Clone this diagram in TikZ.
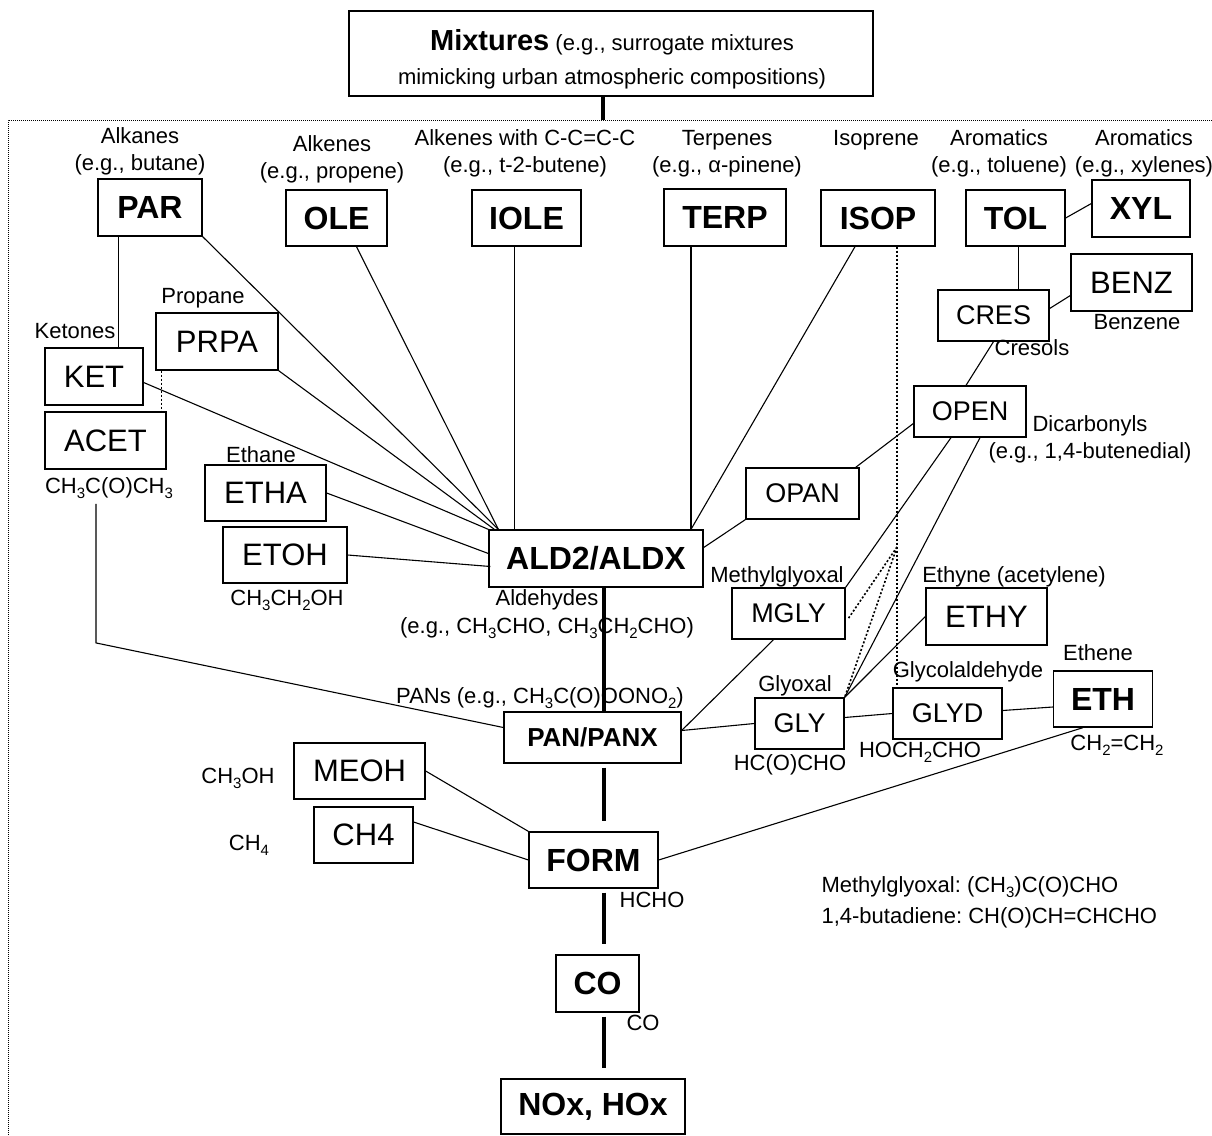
\documentclass[tikz,border=0pt]{standalone}
\usepackage{fontspec}
\setmainfont{Liberation Sans}
\usepackage{graphicx}
\usetikzlibrary{calc}
\newcommand{\sbs}[1]{\raisebox{-0.45ex}{\scalebox{0.68}{#1}}}
\frenchspacing

\begin{document}
\begin{tikzpicture}[x=1pt, y=-1pt, line width=1.1pt,
        box_style/.style={draw, line width=1.3pt, inner sep=0pt, font=\fontsize{31}{35}\selectfont},
        bold_box_style/.style={box_style, font=\fontsize{32}{36}\selectfont\bfseries},
        small_box_style/.style={box_style, font=\fontsize{27}{31}\selectfont},
        box_size/.style 2 args={minimum width=#1pt, minimum height=#2pt},
        label_style/.style={anchor=base, inner sep=0pt, align=center, font=\fontsize{22}{27}\selectfont},
        edge_style/.style={draw=black, line width=1.1pt},
        dot_edge_style/.style={draw=black, line width=1.6pt, dash pattern=on 2pt off 2pt},
        spine_style/.style={draw=black, line width=4pt},
        frame_style/.style={draw=black, line width=0.8pt, dash pattern=on 1pt off 1pt}]

        \useasboundingbox (0,0) rectangle (1212,1135);

        % boxes
        \node [box_style, box_size={524}{85}](mix) at (611,53.5) {};

        \node [bold_box_style, box_size={104}{57}](par) at (150,207.5) {PAR};
        \node [bold_box_style, box_size={101}{56}](ole) at (336.5,218) {OLE};
        \node [bold_box_style, box_size={109}{56}](iole) at (526.5,218) {IOLE};
        \node [bold_box_style, box_size={122}{57}](terp) at (725,217.5) {TERP};
        \node [bold_box_style, box_size={114}{56}](isop) at (878,218) {ISOP};
        \node [bold_box_style, box_size={99}{56}](tol) at (1015.5,218) {TOL};
        \node [bold_box_style, box_size={98}{57}](xyl) at (1141,208.5) {XYL};

        \node [box_style, box_size={121}{57}](benz) at (1131.5,282.5) {BENZ};
        \node [small_box_style, box_size={111}{51}](cres) at (993.5,315.5) {CRES};
        \node [small_box_style, box_size={112}{51}](open) at (970,411.5) {OPEN};
        \node [small_box_style, box_size={113}{51}](opan) at (802.5,493.5) {OPAN};

        \node [box_style, box_size={98}{57}](ket) at (94,376.5) {KET};
        \node [box_style, box_size={122}{57}](prpa) at (217,341.5) {PRPA};
        \node [box_style, box_size={121}{57}](acet) at (105.5,440.5) {ACET};
        \node [box_style, box_size={121}{56}](etha) at (265.5,493) {ETHA};
        \node [box_style, box_size={124}{56}](etoh) at (285,555) {ETOH};

        \node [bold_box_style, box_size={214}{57}](ald) at (596,558.5) {ALD2/ALDX};

        \node [small_box_style, box_size={113}{51}](mgly) at (788.5,613.5) {MGLY};
        \node [box_style, box_size={121}{57}](ethy) at (986.5,616.5) {ETHY};
        \node [small_box_style, box_size={89}{51}](gly) at (799.5,723.5) {GLY};
        \node [small_box_style, box_size={109}{51}](glyd) at (947.5,713.5) {GLYD};
        \node [bold_box_style, box_size={99}{56}](eth) at (1103,699) {ETH};

        \node [bold_box_style, box_size={177}{51}, font=\fontsize{26}{30}\selectfont\bfseries](pan) at (592.5,737.5) {PAN/PANX};
        \node [box_style, box_size={131}{56}](meoh) at (359.5,771) {MEOH};
        \node [box_style, box_size={99}{56}](ch4) at (363.5,835) {CH4};
        \node [bold_box_style, box_size={129}{56}](form) at (593.5,860) {FORM};
        \node [bold_box_style, box_size={83}{57}](co) at (597.5,983.5) {CO};
        \node [bold_box_style, box_size={184}{55}](nox) at (593,1106.5) {NOx, HOx};

        % labels (base = last line)
        \node [label_style, font=\fontsize{22}{34}\selectfont](lmix) at (612,84)
            {{\bfseries\fontsize{29}{34}\selectfont Mixtures} (e.g., surrogate mixtures\\mimicking urban atmospheric compositions)};
        \node [label_style](lpar) at (140,170) {Alkanes\\(e.g., butane)};
        \node [label_style](lole) at (332,178) {Alkenes\\(e.g., propene)};
        \node [label_style](liole) at (525,172) {Alkenes with C-C=C-C\\(e.g., t-2-butene)};
        \node [label_style](lterp) at (727,172) {Terpenes\\(e.g., α-pinene)};
        \node [label_style](lisop) at (876,145) {Isoprene};
        \node [label_style](ltol) at (999,172) {Aromatics\\(e.g., toluene)};
        \node [label_style](lxyl) at (1144,172) {Aromatics\\(e.g., xylenes)};
        \node [label_style](lbenz) at (1137,329) {Benzene};
        \node [label_style](lcres) at (1032,355) {Cresols};
        \node [label_style](lopen) at (1090,458) {Dicarbonyls\\(e.g., 1,4-butenedial)};
        \node [label_style](lprpa) at (203,303) {Propane};
        \node [label_style](lket) at (75,338) {Ketones};
        \node [label_style](lacet) at (109,493) {CH\sbs{3}C(O)CH\sbs{3}};
        \node [label_style](letha) at (261,462) {Ethane};
        \node [label_style](letoh) at (287,605) {CH\sbs{3}CH\sbs{2}OH};
        \node [label_style, font=\fontsize{22}{28}\selectfont](lald) at (547,633) {Aldehydes\\(e.g., CH\sbs{3}CHO, CH\sbs{3}CH\sbs{2}CHO)};
        \node [label_style](lmgly) at (777,582) {Methylglyoxal};
        \node [label_style](lethy) at (1014,582) {Ethyne (acetylene)};
        \node [label_style](lgly) at (795,691) {Glyoxal};
        \node [label_style](lglyd) at (968,677) {Glycolaldehyde};
        \node [label_style](leth) at (1098,660) {Ethene};
        \node [label_style](lglyf) at (790,770) {HC(O)CHO};
        \node [label_style](lglydf) at (920,757) {HOCH\sbs{2}CHO};
        \node [label_style](lethf) at (1117,750) {CH\sbs{2}=CH\sbs{2}};
        \node [label_style](lpan) at (540,703) {PANs (e.g., CH\sbs{3}C(O)OONO\sbs{2})};
        \node [label_style](lmeoh) at (238,783) {CH\sbs{3}OH};
        \node [label_style](lch4) at (249,850) {CH\sbs{4}};
        \node [label_style](lform) at (652,907) {HCHO};
        \node [label_style](lco) at (643,1030) {CO};
        \node [label_style, anchor=base west, align=left, font=\fontsize{22}{31}\selectfont](note) at (821,923)
            {Methylglyoxal: (CH\sbs{3})C(O)CHO\\1,4-butadiene: CH(O)CH=CHCHO};

        % enclosure and main chain
        \coordinate (frametop) at (603,120);
        \coordinate (sp) at (604,0);
        \draw [frame_style] (8,1135) |- (1212,120);
        \draw [spine_style] (mix.south -| frametop) -- (frametop);
        \draw [spine_style] (ald.south -| sp) -- (pan.north -| sp);
        \draw [spine_style, shorten <=4pt, shorten >=10pt] (pan.south -| sp) -- (form.north -| sp);
        \draw [spine_style, shorten <=4pt, shorten >=10pt] (form.south -| sp) -- (co.north -| sp);
        \draw [spine_style, shorten <=4pt, shorten >=10pt] (co.south -| sp) -- (nox.north -| sp);

        % into ALD2/ALDX
        \draw [edge_style] ($(par.south west)!.2!(par.south east)$) coordinate (pk) -- (pk |- ket.north);
        \draw [edge_style] (par.south east) -- ($(ald.north west)+(10,0)$);
        \draw [edge_style] ($(ole.south)+(20,0)$) -- ($(ald.north west)+(10,0)$);
        \draw [edge_style] ($(iole.south)+(-12,0)$) coordinate (io) -- (io |- ald.north);
        \draw [edge_style] ($(terp.south)+(-34,0)$) coordinate (te) -- (te |- ald.north);
        \draw [edge_style] ($(isop.south)+(-23,0)$) -- (te |- ald.north);
        \draw [edge_style] (prpa.south east) -- ($(ald.north west)+(6,0)$);
        \draw [edge_style] ($(ket.east)+(0,6)$) -- (ald.north west);
        \draw [edge_style] (etha.east) -- ($(ald.west)+(0,-5)$);
        \draw [edge_style] (etoh.east) -- ($(ald.west)+(2,8)$);
        \draw [edge_style] (opan.south west) -- ($(ald.east)+(0,-11)$);
        \draw [dot_edge_style] ($(prpa.south west)+(6,0)$) -- ($(acet.north west)+(117,0)$);

        % aromatics and dicarbonyls
        \draw [edge_style] (tol.east) -- ($(xyl.west)+(0,-5)$);
        \draw [edge_style] ($(tol.south)+(3,0)$) coordinate (tc) -- (tc |- cres.north);
        \draw [edge_style] ($(cres.east)+(0,-7)$) -- ($(benz.west)+(0,13)$);
        \draw [edge_style] (cres.south) -- ($(open.north)+(-4,0)$);
        \draw [edge_style] ($(open.west)+(0,12)$) -- ($(opan.north east)+(-4,0)$);
        \draw [edge_style] ($(open.south)+(-19,0)$) -- (mgly.north east);
        \draw [edge_style] ($(open.south)+(10,0)$) -- (gly.north east);
        \draw [edge_style] (ethy.west) -- (gly.north east);

        % isoprene products
        \coordinate (isopfork) at (897,547);
        \coordinate (isopend) at (897,686);
        \draw [dot_edge_style, line width=1.1pt] ($(isop.south)+(19,0)$) -- (isopend);
        \draw [dot_edge_style] (isopfork) -- ($(mgly.east)+(2,6)$);
        \draw [dot_edge_style] (isopfork) -- (gly.north east);

        % into PAN/PANX and FORM
        \draw [edge_style] ($(mgly.south)+(-15,0)$) -- ($(pan.east)+(0,-7)$);
        \draw [edge_style] (gly.west) -- ($(pan.east)+(0,-7)$);
        \draw [edge_style] ($(gly.east)+(0,-6)$) -- (glyd.west);
        \draw [edge_style] ($(glyd.east)+(0,-3)$) -- ($(eth.west)+(0,8)$);
        \draw [edge_style] ($(lacet.south)+(-13,5)$) -- ++(0,139) -- ($(pan.west)+(0,-10)$);
        \draw [edge_style] ($(eth.south)+(-20,0)$) -- (form.east);
        \draw [edge_style] (meoh.east) -- (form.north west);
        \draw [edge_style] ($(ch4.east)+(0,-13)$) -- (form.west);

\end{tikzpicture}
\end{document}
